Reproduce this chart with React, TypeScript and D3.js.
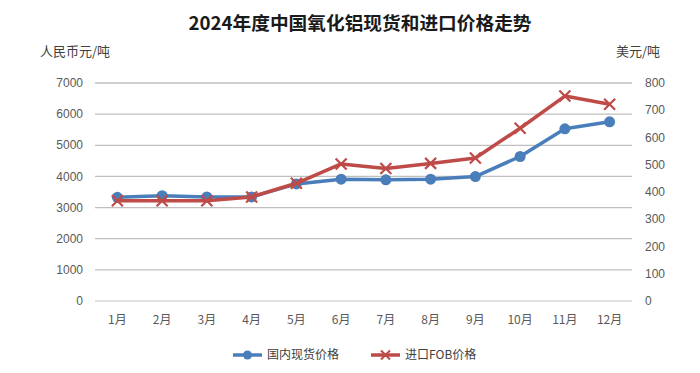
import React, { useRef, useEffect } from 'react';
import * as d3 from 'd3';

const months = ['1月', '2月', '3月', '4月', '5月', '6月', '7月', '8月', '9月', '10月', '11月', '12月'];
// 国内现货价格 (人民币元/吨, left axis)
const domesticPrice = [3330, 3380, 3340, 3340, 3760, 3910, 3890, 3910, 3995, 4640, 5530, 5755];
// 进口FOB价格 (美元/吨, right axis)
const importFob = [368, 368, 368, 382, 432, 503, 486, 505, 525, 634, 752, 722];
const leftTicks = [0, 1000, 2000, 3000, 4000, 5000, 6000, 7000];
const rightTicks = [0, 100, 200, 300, 400, 500, 600, 700, 800];

const BLUE = '#4a7ebb';
const RED = '#be4b48';
const FONT = '"Liberation Sans", "Noto Sans CJK SC", sans-serif';
const CJK = '"Noto Sans CJK SC", sans-serif';

const App: React.FC = () => {
  const svgRef = useRef<SVGSVGElement>(null);

  useEffect(() => {
    if (!svgRef.current) return;
    const width = 700;
    const height = 373;
    const left = 95, right = 632, top = 83, bottom = 301;

    const svg = d3.select(svgRef.current);
    svg.selectAll('*').remove();
    svg.append('rect').attr('width', width).attr('height', height).attr('fill', '#fff');

    const x = d3.scaleBand<string>().domain(months).range([left, right]);
    const yL = d3.scaleLinear().domain([0, 7000]).range([bottom, top]);
    const yR = d3.scaleLinear().domain([0, 800]).range([bottom, top]);

    // title
    svg.append('text')
      .attr('x', 360).attr('y', 30)
      .attr('text-anchor', 'middle')
      .attr('font-family', CJK)
      .attr('font-weight', 'bold')
      .attr('font-size', 18.7)
      .attr('fill', '#1a1a1a')
      .text('2024年度中国氧化铝现货和进口价格走势');

    // unit labels
    svg.append('text').attr('x', 40).attr('y', 56)
      .attr('font-family', CJK).attr('font-size', 13).attr('fill', '#404040')
      .text('人民币元/吨');
    svg.append('text').attr('x', 660).attr('y', 56).attr('text-anchor', 'end')
      .attr('font-family', CJK).attr('font-size', 13).attr('fill', '#404040')
      .text('美元/吨');

    // gridlines
    svg.append('g')
      .selectAll('line')
      .data(leftTicks)
      .join('line')
      .attr('x1', left).attr('x2', right)
      .attr('y1', d => yL(d)).attr('y2', d => yL(d))
      .attr('stroke', d => (d === 0 ? '#d9d9d9' : '#bfbfbf'))
      .attr('stroke-width', 1.3);

    // left axis
    svg.append('g')
      .selectAll('text')
      .data(leftTicks)
      .join('text')
      .attr('x', 83).attr('y', d => yL(d))
      .attr('dy', '0.35em')
      .attr('text-anchor', 'end')
      .attr('font-family', FONT).attr('font-size', 12).attr('fill', '#595959')
      .text(d => String(d));

    // right axis
    svg.append('g')
      .selectAll('text')
      .data(rightTicks)
      .join('text')
      .attr('x', 645).attr('y', d => yR(d))
      .attr('dy', '0.35em')
      .attr('font-family', FONT).attr('font-size', 12).attr('fill', '#595959')
      .text(d => String(d));

    // x axis labels
    svg.append('g')
      .selectAll('text')
      .data(months)
      .join('text')
      .attr('x', d => x(d)! + x.bandwidth() / 2).attr('y', 324)
      .attr('text-anchor', 'middle')
      .attr('font-family', CJK).attr('font-size', 12).attr('fill', '#595959')
      .text(d => d);

    const cx = (i: number) => x(months[i])! + x.bandwidth() / 2;

    // domestic line
    const lineL = d3.line<number>().x((_, i) => cx(i)).y(d => yL(d));
    svg.append('path')
      .attr('d', lineL(domesticPrice)!)
      .attr('fill', 'none').attr('stroke', BLUE).attr('stroke-width', 3.5)
      .attr('stroke-linejoin', 'round');
    svg.append('g')
      .selectAll('circle')
      .data(domesticPrice)
      .join('circle')
      .attr('cx', (_, i) => cx(i)).attr('cy', d => yL(d)).attr('r', 5.5)
      .attr('fill', BLUE);

    // import line
    const lineR = d3.line<number>().x((_, i) => cx(i)).y(d => yR(d));
    svg.append('path')
      .attr('d', lineR(importFob)!)
      .attr('fill', 'none').attr('stroke', RED).attr('stroke-width', 3.5)
      .attr('stroke-linejoin', 'round');
    const cross = (px: number, py: number, s: number) =>
      `M${px - s},${py - s}L${px + s},${py + s}M${px - s},${py + s}L${px + s},${py - s}`;
    svg.append('g')
      .selectAll('path')
      .data(importFob)
      .join('path')
      .attr('d', (d, i) => cross(cx(i), yR(d), 5.5))
      .attr('stroke', RED).attr('stroke-width', 2.2).attr('fill', 'none');

    // legend
    const lg = svg.append('g').attr('font-family', CJK).attr('font-size', 12).attr('fill', '#404040');
    lg.append('line').attr('x1', 233).attr('x2', 262).attr('y1', 355).attr('y2', 355)
      .attr('stroke', BLUE).attr('stroke-width', 3.5);
    lg.append('circle').attr('cx', 247.5).attr('cy', 355).attr('r', 4.5).attr('fill', BLUE);
    lg.append('text').attr('x', 267).attr('y', 355).attr('dy', '0.35em').text('国内现货价格');
    lg.append('line').attr('x1', 371).attr('x2', 400).attr('y1', 355).attr('y2', 355)
      .attr('stroke', RED).attr('stroke-width', 3.5);
    lg.append('path').attr('d', cross(385.5, 355, 4.5))
      .attr('stroke', RED).attr('stroke-width', 2).attr('fill', 'none');
    lg.append('text').attr('x', 405).attr('y', 355).attr('dy', '0.35em').text('进口FOB价格');
  }, []);

  return <svg ref={svgRef} width={700} height={373} style={{ display: 'block', position: 'absolute', left: 0, top: 0 }} />;
};

export default App;
